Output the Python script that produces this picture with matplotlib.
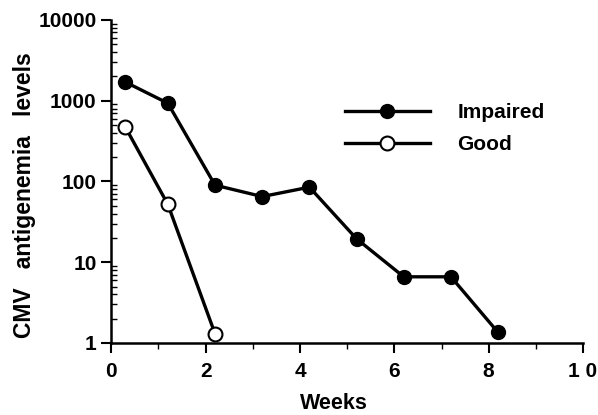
import matplotlib.pyplot as plt
from matplotlib.ticker import LogLocator, NullFormatter, FixedLocator

plt.rcParams['font.family'] = ['Liberation Sans', 'DejaVu Sans']
plt.rcParams['font.weight'] = 'bold'

impaired_weeks = [0.3, 1.2, 2.2, 3.2, 4.2, 5.2, 6.2, 7.2, 8.2]
impaired_levels = [1700, 930, 90, 65, 85, 19.5, 6.6, 6.6, 1.35]
good_weeks = [0.3, 1.2, 2.2]
good_levels = [470, 52, 1.3]

x_ticks = [0, 2, 4, 6, 8, 10]
x_tick_labels = ['0', '2', '4', '6', '8', '1 0']
y_ticks = [1, 10, 100, 1000, 10000]
y_tick_labels = ['1', '10', '100', '1000', '10000']

fig = plt.figure(figsize=(5.98, 4.15), dpi=100)
ax = fig.add_axes([0.186, 0.1735, 0.789, 0.7785])

ax.plot(impaired_weeks, impaired_levels, color='black', lw=2.4, marker='o',
        ms=10, mfc='black', mec='black', label='Impaired', clip_on=False, zorder=3)
ax.plot(good_weeks, good_levels, color='black', lw=2.4, marker='o',
        ms=10, mfc='white', mec='black', mew=1.5, label='Good', clip_on=False, zorder=3)

ax.set_yscale('log')
ax.set_xlim(0, 10)
ax.set_ylim(1, 10000)
ax.set_yticks(y_ticks)
ax.set_yticklabels(y_tick_labels)
ax.yaxis.set_minor_locator(LogLocator(base=10, subs=range(2, 10)))
ax.yaxis.set_minor_formatter(NullFormatter())
ax.set_xticks(x_ticks)
ax.set_xticklabels(x_tick_labels)
ax.xaxis.set_minor_locator(FixedLocator([1, 3, 5, 7, 9]))

for s in ['top', 'right']:
    ax.spines[s].set_visible(False)
for s in ['left', 'bottom']:
    ax.spines[s].set_linewidth(1.8)

ax.tick_params(axis='both', which='major', labelsize=15, width=1.5, length=7, direction='out')
ax.tick_params(axis='y', which='minor', width=1.0, length=4, direction='in')
ax.tick_params(axis='x', which='minor', width=1.0, length=4, direction='out')
ax.tick_params(axis='x', pad=7)

ax.set_xlabel('Weeks', fontsize=15.5, fontweight='bold')
ax.xaxis.set_label_coords(0.472, -0.155)
ax.set_ylabel('CMV   antigenemia   levels', fontsize=16.5, fontweight='bold')
ax.yaxis.set_label_coords(-0.16, 0.458)

ax.legend(loc='upper left', bbox_to_anchor=(0.455, 0.80), frameon=False, fontsize=15,
          handlelength=4.1, handletextpad=1.3, labelspacing=0.62)

fig.savefig('out.png', dpi=100)
